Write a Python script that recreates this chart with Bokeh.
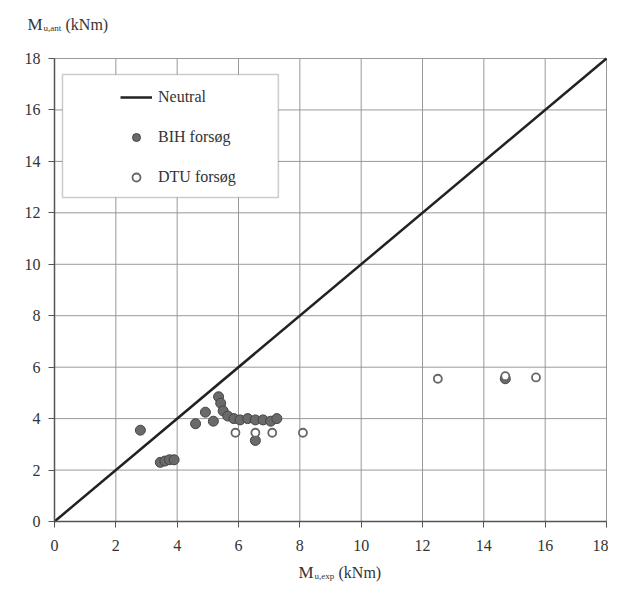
from bokeh.plotting import figure
from bokeh.models import Range1d, Label, Legend, LegendItem, BoxAnnotation, FixedTicker
from bokeh.embed import file_html
from bokeh.resources import INLINE

neutral_x = [0, 18]
neutral_y = [0, 18]

bih_x = [2.8, 3.45, 3.6, 3.75, 3.9, 4.6, 4.92, 5.18, 5.35, 5.42, 5.5, 5.65, 5.85, 6.05, 6.3, 6.55, 6.8, 7.05, 7.25, 6.55, 14.7]
bih_y = [3.55, 2.3, 2.35, 2.4, 2.4, 3.8, 4.25, 3.9, 4.85, 4.6, 4.3, 4.1, 4.0, 3.95, 4.0, 3.95, 3.95, 3.9, 4.0, 3.15, 5.55]

dtu_x = [5.9, 6.55, 7.1, 8.1, 12.5, 14.7, 15.7]
dtu_y = [3.45, 3.45, 3.45, 3.45, 5.55, 5.65, 5.6]

ticks = [0, 2, 4, 6, 8, 10, 12, 14, 16, 18]

FONT = "Liberation Serif"
W, H = 608, 583
lo, hi = ticks[0], ticks[-1]

# the frame covers the whole canvas; axes are pinned at 0 so titles can sit outside the 0-18 box
p = figure(width=W, height=H, output_backend="svg", toolbar_location=None,
           x_range=Range1d(-1.761, 18.065), y_range=Range1d(-2.41, 20.255),
           min_border_left=0, min_border_right=0, min_border_top=0, min_border_bottom=0)
p.background_fill_color = "white"
p.border_fill_color = "white"
p.outline_line_color = None
p.grid.visible = False

# grid lines at the tick values
p.segment(x0=ticks, y0=lo, x1=ticks, y1=hi, line_color="#999999", line_width=1)
p.segment(x0=lo, y0=ticks, x1=hi, y1=ticks, line_color="#999999", line_width=1)

for ax in (p.xaxis[0], p.yaxis[0]):
    ax.ticker = FixedTicker(ticks=ticks)
    ax.fixed_location = 0
    ax.bounds = (lo, hi)
    ax.major_label_text_font = FONT
    ax.major_label_text_font_size = "16px"
    ax.major_label_text_color = "#333333"
    ax.axis_line_color = "#555555"
    ax.axis_line_width = 1.5
    ax.major_tick_line_color = "#555555"
    ax.major_tick_out = 6
    ax.major_tick_in = 0
    ax.minor_tick_line_color = None
p.xaxis.major_label_standoff = 12
p.yaxis.major_label_standoff = 8

r_line = p.line(neutral_x, neutral_y, line_color="#222222", line_width=2.5)
r_bih = p.scatter(bih_x, bih_y, marker="circle", size=10, fill_color="#6a6a6a",
                  line_color="#444444", line_width=1)
r_dtu = p.scatter(dtu_x, dtu_y, marker="circle", size=8, fill_color="white",
                  line_color="#666666", line_width=1.8)

box = BoxAnnotation(left=0.26, right=7.3, top=17.38, bottom=12.6,
                    fill_color="white", fill_alpha=1.0,
                    line_color="#555555", line_width=1.5, level="annotation")
p.add_layout(box)

legend = Legend(items=[LegendItem(label="Neutral", renderers=[r_line]),
                       LegendItem(label="BIH forsøg", renderers=[r_bih]),
                       LegendItem(label="DTU forsøg", renderers=[r_dtu])],
                location=(120, 396), padding=0, spacing=20,
                glyph_width=32, glyph_height=20, label_height=20,
                label_standoff=6, border_line_alpha=0, background_fill_alpha=0,
                label_text_font=FONT, label_text_font_size="16px",
                label_text_color="#333333")
p.add_layout(legend)

lab_kw = dict(text_font=FONT, text_color="#333333", x_units="screen", y_units="screen",
              text_baseline="alphabetic")
# y-axis title (top left)
p.add_layout(Label(x=27, y=559, text="M", text_font_size="17px", **lab_kw))
p.add_layout(Label(x=43, y=556, text="u,ant", text_font_size="9px", **lab_kw))
p.add_layout(Label(x=65, y=559, text="(kNm)", text_font_size="16px", **lab_kw))
# x-axis title (bottom centre)
p.add_layout(Label(x=298, y=11, text="M", text_font_size="17px", **lab_kw))
p.add_layout(Label(x=314, y=8, text="u,exp", text_font_size="9px", **lab_kw))
p.add_layout(Label(x=338, y=11, text="(kNm)", text_font_size="16px", **lab_kw))

open("out.html", "w").write(file_html(p, INLINE))
